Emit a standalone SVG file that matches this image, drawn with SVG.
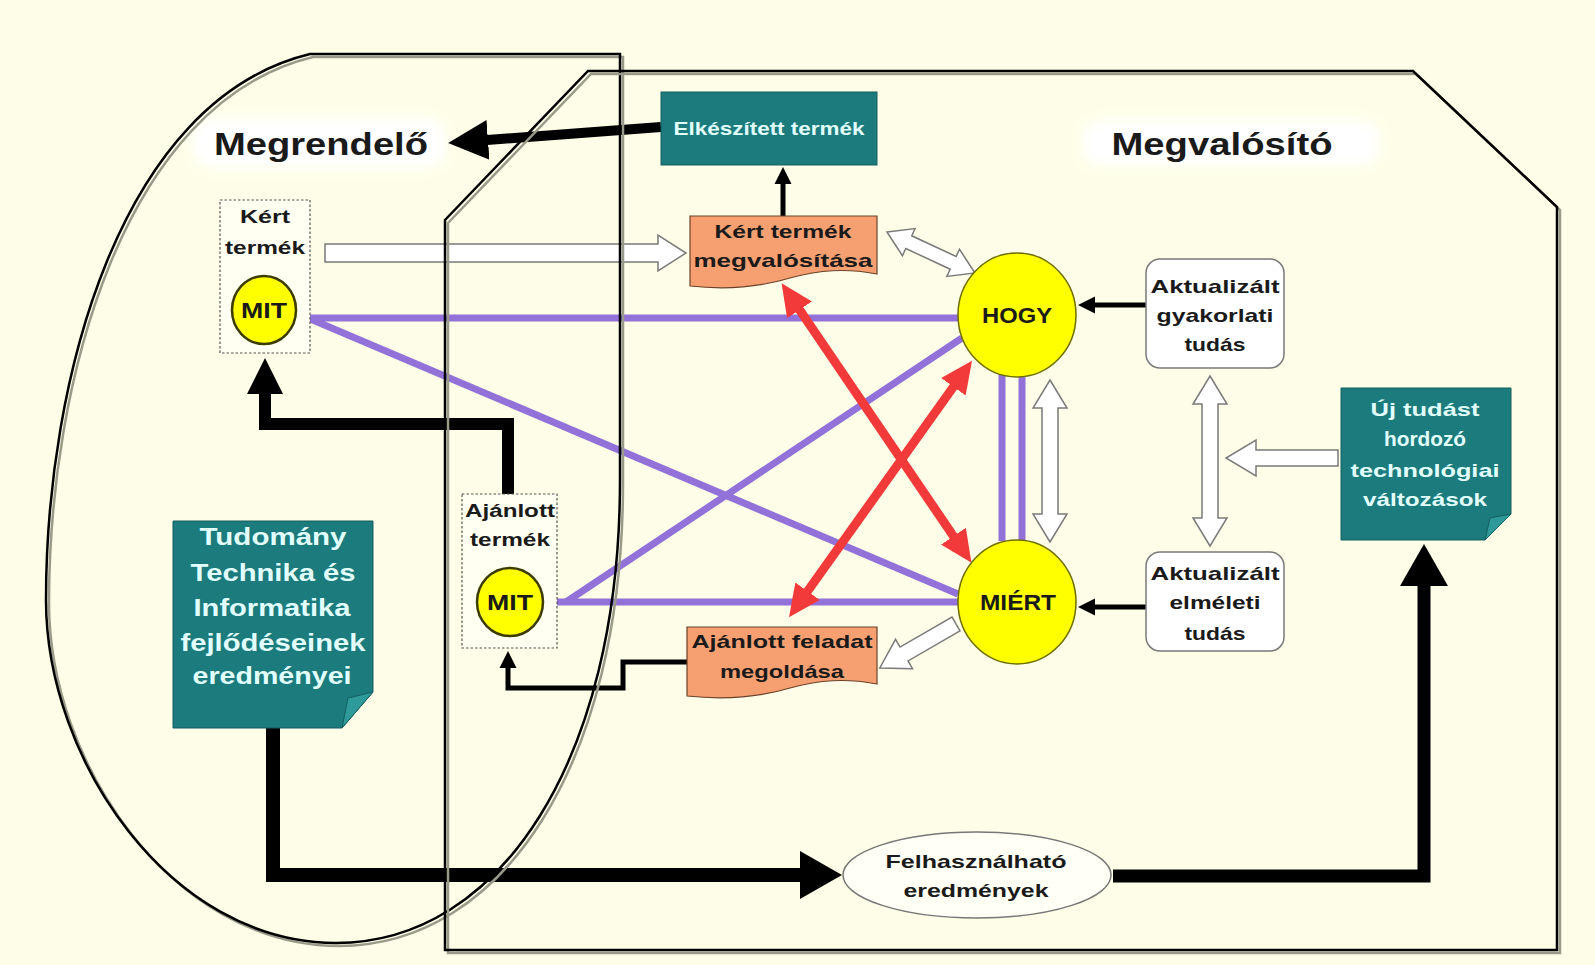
<svg xmlns="http://www.w3.org/2000/svg" width="1595" height="965" viewBox="0 0 1595 965">
<defs>
<style>
.t{font-family:"Liberation Sans",Arial,sans-serif;font-weight:bold;text-anchor:middle}
.dk{fill:#1a1a1a}
.lt{fill:#e2ffff}
.teal{fill:#1c7b7c;stroke:#145f60;stroke-width:1}
.doc{fill:#f6a072;stroke:#6b4028;stroke-width:1.2}
.dash{fill:#fffff2;stroke:#555;stroke-width:1.2;stroke-dasharray:2.5 2}
.yel{fill:#ffff00;stroke:#3c3c00;stroke-width:2.5}
.yel2{fill:#ffff00;stroke:#6e6e00;stroke-width:1.5}
.know{fill:#ffffff;stroke:#7a7a7a;stroke-width:1.5}
.hollow{fill:#ffffff;stroke:#7a7a7a;stroke-width:1.5;stroke-linejoin:miter}
.pur{stroke:#9272d8;stroke-width:7;fill:none}
.red{stroke:#f23a3a;stroke-width:9;fill:none;marker-start:url(#hRed);marker-end:url(#hRed)}
.blk{stroke:#000;fill:none;stroke-linejoin:miter}
.cont{fill:none;stroke:#000;stroke-width:2.5}
.shad{fill:none;stroke:#9a9a8a;stroke-width:2.5}
</style>
<filter id="glow" x="-20%" y="-50%" width="140%" height="200%"><feGaussianBlur stdDeviation="6"/></filter>
<marker id="hBig" markerUnits="userSpaceOnUse" viewBox="0 -25 44 50" refX="1" refY="0" markerWidth="44" markerHeight="50" orient="auto"><path d="M0,-24 L42,0 L0,24 Z" fill="#000"/></marker>
<marker id="hTop" markerUnits="userSpaceOnUse" viewBox="0 -21 42 42" refX="1" refY="0" markerWidth="42" markerHeight="42" orient="auto"><path d="M0,-20 L40,0 L0,20 Z" fill="#000"/></marker>
<marker id="hMed" markerUnits="userSpaceOnUse" viewBox="0 -19 38 38" refX="1" refY="0" markerWidth="38" markerHeight="38" orient="auto"><path d="M0,-18 L36,0 L0,18 Z" fill="#000"/></marker>
<marker id="hSm" markerUnits="userSpaceOnUse" viewBox="0 -9 18 18" refX="1" refY="0" markerWidth="18" markerHeight="18" orient="auto"><path d="M0,-8.5 L17,0 L0,8.5 Z" fill="#000"/></marker>
<marker id="hRed" markerUnits="userSpaceOnUse" viewBox="0 -16 34 32" refX="1" refY="0" markerWidth="34" markerHeight="32" orient="auto-start-reverse"><path d="M0,-15 L32,0 L0,15 Z" fill="#f23a3a"/></marker>
</defs>

<rect x="0" y="0" width="1595" height="965" fill="#fefee8"/>

<!-- label glows -->
<rect x="192" y="118" width="254" height="50" rx="20" fill="#ffffff" filter="url(#glow)"/>
<rect x="1082" y="120" width="298" height="46" rx="20" fill="#ffffff" filter="url(#glow)"/>

<g id="connectors">
  <!-- purple relation lines -->
  <path class="pur" d="M300,318 H958"/>
  <path class="pur" d="M308,318 L958,594"/>
  <path class="pur" d="M556,602 H958"/>
  <path class="pur" d="M566,602 L962,338"/>
  <path class="pur" d="M1002,374 V541"/>
  <path class="pur" d="M1022,374 V541"/>
  <!-- red double arrows -->
  <path class="red" d="M799,309 L954,537"/>
  <path class="red" d="M954,386 L807,592"/>
  <!-- hollow arrows -->
  <path class="hollow" transform="translate(325,253)" d="M0,-9 H333 V-18 L361,0 L333,18 V9 H0 Z"/>
  <path class="hollow" transform="translate(887,232) rotate(25)" d="M0,0 L24,-15 V-7 H73 V-15 L97,0 L73,15 V7 H24 V15 Z"/>
  <path class="hollow" transform="translate(1050,380) rotate(90)" d="M0,0 L28,-17 V-8 H134 V-17 L162,0 L134,17 V8 H28 V17 Z"/>
  <path class="hollow" transform="translate(1210,376) rotate(90)" d="M0,0 L28,-17 V-8 H142 V-17 L170,0 L142,17 V8 H28 V17 Z"/>
  <path class="hollow" transform="translate(1338,458) rotate(180)" d="M0,-8 H82 V-18 L112,0 L82,18 V8 H0 Z"/>
  <path class="hollow" transform="translate(956,624) rotate(150)" d="M0,-8 H60 V-17 L88,0 L60,17 V8 H0 Z"/>
  <!-- black arrows -->
  <path class="blk" stroke-width="10" marker-end="url(#hTop)" d="M661,127 L487,140"/>
  <path class="blk" stroke-width="5" marker-end="url(#hSm)" d="M783,217 V183"/>
  <path class="blk" stroke-width="12" marker-end="url(#hMed)" d="M508,494 V424 H265 V393"/>
  <path class="blk" stroke-width="5" marker-end="url(#hSm)" d="M1146,305 H1094"/>
  <path class="blk" stroke-width="5" marker-end="url(#hSm)" d="M1146,607 H1094"/>
  <path class="blk" stroke-width="5" marker-end="url(#hSm)" d="M690,662 H623 V688 H508 V667"/>
  <path class="blk" stroke-width="14" marker-end="url(#hBig)" d="M273,728 V875 H801"/>
  <path class="blk" stroke-width="13" marker-end="url(#hBig)" d="M1113,876 H1424 V585"/>
</g>

<!-- containers -->
<g id="megrendelo">
  <path class="shad" transform="translate(3,3)" d="M310,54 L620,54 L620,480 C620,760 500,943 336,943 C170,943 46,760 46,600 C46,380 120,100 310,54 Z"/>
  <path class="cont" d="M310,54 L620,54 L620,480 C620,760 500,943 336,943 C170,943 46,760 46,600 C46,380 120,100 310,54 Z"/>
  <text class="t dk" x="321" y="155" font-size="31" textLength="214" lengthAdjust="spacingAndGlyphs">Megrendelő</text>
</g>
<g id="megvalosito">
  <path class="shad" transform="translate(3,3)" d="M445,220 L588,71 L1413,71 L1557,207 L1557,950 L445,950 Z"/>
  <path class="cont" d="M445,220 L588,71 L1413,71 L1557,207 L1557,950 L445,950 Z"/>
  <text class="t dk" x="1222" y="155" font-size="31" textLength="221" lengthAdjust="spacingAndGlyphs">Megvalósító</text>
</g>

<g id="elkeszitett">
  <rect class="teal" x="661" y="92" width="216" height="73"/>
  <text class="t lt" x="769" y="135" font-size="19" textLength="191" lengthAdjust="spacingAndGlyphs">Elkészített termék</text>
</g>

<g id="kert-megval">
  <path class="doc" d="M690,216 H877 V274 C845,268 820,270 790,278 C760,287 725,290 690,286 Z"/>
  <text class="t dk" x="783" y="238" font-size="19" textLength="137" lengthAdjust="spacingAndGlyphs">Kért termék</text>
  <text class="t dk" x="783" y="267" font-size="19" textLength="179" lengthAdjust="spacingAndGlyphs">megvalósítása</text>
</g>

<g id="ajanlott-feladat">
  <path class="doc" d="M687,627 H877 V684 C845,678 820,680 790,688 C760,697 725,700 687,696 Z"/>
  <text class="t dk" x="782" y="648" font-size="19" textLength="181" lengthAdjust="spacingAndGlyphs">Ajánlott feladat</text>
  <text class="t dk" x="782" y="678" font-size="19" textLength="124" lengthAdjust="spacingAndGlyphs">megoldása</text>
</g>

<g id="kert-termek">
  <rect class="dash" x="220" y="200" width="90" height="153"/>
  <text class="t dk" x="265" y="223" font-size="18" textLength="50" lengthAdjust="spacingAndGlyphs">Kért</text>
  <text class="t dk" x="265" y="254" font-size="18" textLength="80" lengthAdjust="spacingAndGlyphs">termék</text>
  <ellipse class="yel" cx="264" cy="310" rx="32" ry="34"/>
  <text class="t dk" x="264" y="318" font-size="22" textLength="46" lengthAdjust="spacingAndGlyphs">MIT</text>
</g>

<g id="ajanlott-termek">
  <rect class="dash" x="462" y="494" width="95" height="154"/>
  <text class="t dk" x="510" y="517" font-size="18" textLength="90" lengthAdjust="spacingAndGlyphs">Ajánlott</text>
  <text class="t dk" x="510" y="546" font-size="18" textLength="80" lengthAdjust="spacingAndGlyphs">termék</text>
  <ellipse class="yel" cx="510" cy="602" rx="33" ry="34"/>
  <text class="t dk" x="510" y="610" font-size="22" textLength="46" lengthAdjust="spacingAndGlyphs">MIT</text>
</g>

<g id="hogy">
  <ellipse class="yel2" cx="1017" cy="315" rx="59" ry="62"/>
  <text class="t dk" x="1017" y="323" font-size="22" textLength="70" lengthAdjust="spacingAndGlyphs">HOGY</text>
</g>

<g id="miert">
  <ellipse class="yel2" cx="1017" cy="602" rx="59" ry="62"/>
  <text class="t dk" x="1018" y="610" font-size="22" textLength="76" lengthAdjust="spacingAndGlyphs">MIÉRT</text>
</g>

<g id="gyakorlati">
  <rect class="know" x="1146" y="259" width="138" height="109" rx="14"/>
  <text class="t dk" x="1215" y="293" font-size="19" textLength="129" lengthAdjust="spacingAndGlyphs">Aktualizált</text>
  <text class="t dk" x="1215" y="322" font-size="19" textLength="117" lengthAdjust="spacingAndGlyphs">gyakorlati</text>
  <text class="t dk" x="1215" y="351" font-size="19" textLength="61" lengthAdjust="spacingAndGlyphs">tudás</text>
</g>

<g id="elmeleti">
  <rect class="know" x="1146" y="552" width="138" height="99" rx="14"/>
  <text class="t dk" x="1215" y="580" font-size="19" textLength="129" lengthAdjust="spacingAndGlyphs">Aktualizált</text>
  <text class="t dk" x="1215" y="609" font-size="19" textLength="91" lengthAdjust="spacingAndGlyphs">elméleti</text>
  <text class="t dk" x="1215" y="640" font-size="19" textLength="61" lengthAdjust="spacingAndGlyphs">tudás</text>
</g>

<g id="uj-tudas">
  <path class="teal" d="M1341,388 H1511 V514 L1485,540 H1341 Z"/>
  <path d="M1511,514 L1485,540 L1490,518 Z" fill="#2f9a9a" stroke="#145f60" stroke-width="1"/>
  <text class="t lt" x="1425" y="416" font-size="19" textLength="109" lengthAdjust="spacingAndGlyphs">Új tudást</text>
  <text class="t lt" x="1425" y="446" font-size="20" textLength="82" lengthAdjust="spacingAndGlyphs">hordozó</text>
  <text class="t lt" x="1425" y="477" font-size="19" textLength="149" lengthAdjust="spacingAndGlyphs">technológiai</text>
  <text class="t lt" x="1425" y="506" font-size="19" textLength="124" lengthAdjust="spacingAndGlyphs">változások</text>
</g>

<g id="tudomany">
  <path class="teal" d="M173,521 H373 V692 L342,728 H173 Z"/>
  <path d="M373,692 L342,728 L348,698 Z" fill="#2f9a9a" stroke="#145f60" stroke-width="1"/>
  <text class="t lt" x="273" y="545" font-size="24" textLength="147" lengthAdjust="spacingAndGlyphs">Tudomány</text>
  <text class="t lt" x="273" y="581" font-size="24" textLength="165" lengthAdjust="spacingAndGlyphs">Technika és</text>
  <text class="t lt" x="272" y="616" font-size="24" textLength="157" lengthAdjust="spacingAndGlyphs">Informatika</text>
  <text class="t lt" x="273" y="651" font-size="24" textLength="185" lengthAdjust="spacingAndGlyphs">fejlődéseinek</text>
  <text class="t lt" x="272" y="684" font-size="24" textLength="159" lengthAdjust="spacingAndGlyphs">eredményei</text>
</g>

<g id="felhasznalhato">
  <ellipse cx="977" cy="875" rx="134" ry="43" fill="#fffff6" stroke="#777" stroke-width="1.5"/>
  <text class="t dk" x="976" y="868" font-size="19" textLength="181" lengthAdjust="spacingAndGlyphs">Felhasználható</text>
  <text class="t dk" x="976" y="897" font-size="19" textLength="145" lengthAdjust="spacingAndGlyphs">eredmények</text>
</g>
</svg>
